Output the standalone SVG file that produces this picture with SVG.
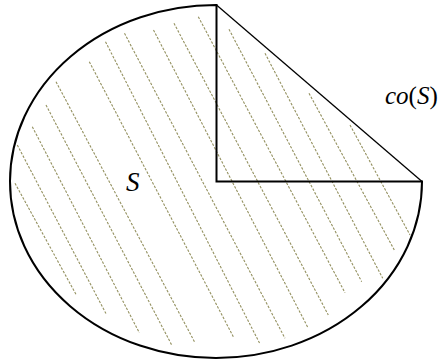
<svg xmlns="http://www.w3.org/2000/svg" width="441" height="361" viewBox="0 0 441 361">
<style>
.outline{fill:none;stroke:#000;stroke-width:2;stroke-linejoin:miter}
.hull{fill:none;stroke:#000;stroke-width:1.3}
.hatch{fill:none;stroke:#949160;stroke-width:1.1;stroke-dasharray:2.5 1.5}
.lbl{font-family:"Liberation Serif","DejaVu Serif",serif;fill:#000}
.it{font-style:italic}
</style>
<rect x="0" y="0" width="441" height="361" fill="#fff"/>
<g id="hatching">
<line class="hatch" x1="15" y1="183.3" x2="76" y2="294.3"/>
<line class="hatch" x1="17.3" y1="145" x2="106.7" y2="315"/>
<line class="hatch" x1="32.3" y1="126.7" x2="139.3" y2="332.7"/>
<line class="hatch" x1="46" y1="105" x2="171.7" y2="345"/>
<line class="hatch" x1="56" y1="81.7" x2="195" y2="342.7"/>
<line class="hatch" x1="89.3" y1="61.7" x2="233.3" y2="336.7"/>
<line class="hatch" x1="105.5" y1="41.7" x2="260" y2="344"/>
<line class="hatch" x1="124.5" y1="33.3" x2="285" y2="338.3"/>
<line class="hatch" x1="153.5" y1="30" x2="308.3" y2="328.3"/>
<line class="hatch" x1="174" y1="23.3" x2="328.3" y2="315"/>
<line class="hatch" x1="198.3" y1="16.7" x2="345" y2="292.7"/>
<line class="hatch" x1="229" y1="29.3" x2="361.7" y2="281.7"/>
<line class="hatch" x1="265" y1="53.3" x2="382.7" y2="278.3"/>
<line class="hatch" x1="309" y1="93.3" x2="394.3" y2="250"/>
<line class="hatch" x1="350" y1="125" x2="410" y2="235"/>
</g>
<g id="set-S">
<path class="outline" d="M216.5 5 A206 176.5 0 1 0 422 181.5 L216.5 181.5 Z"/>
</g>
<g id="convex-hull">
<line class="hull" x1="216.5" y1="5" x2="422" y2="181.5"/>
</g>
<g id="label-S">
<text class="lbl it" x="126" y="191" font-size="27">S</text>
</g>
<g id="label-coS">
<text class="lbl" x="385" y="104" font-size="25"><tspan class="it">co</tspan>(<tspan class="it">S</tspan>)</text>
</g>
</svg>
